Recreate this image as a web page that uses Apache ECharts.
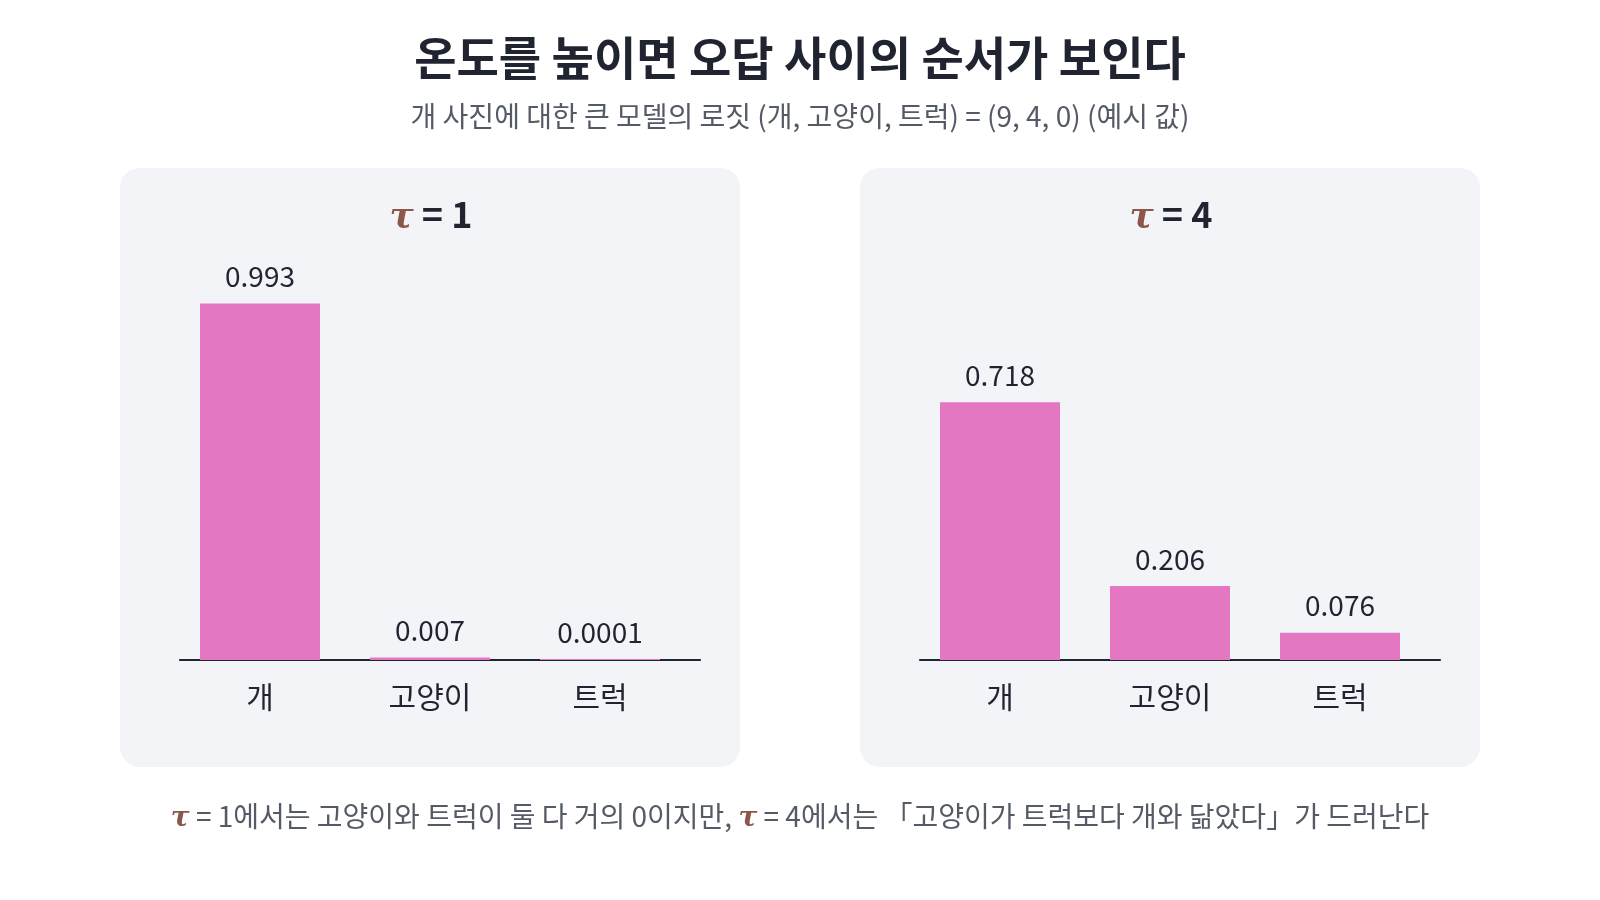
<!DOCTYPE html>
<html>
<head>
<meta charset="utf-8">
<script src="https://cdn.jsdelivr.net/npm/echarts@6/dist/echarts.min.js"></script>
<style>
  html, body { margin: 0; padding: 0; background: #fff; }
  #chart { width: 1600px; height: 900px; }
</style>
</head>
<body>
<div id="chart"></div>
<script>
var categories = ['개', '고양이', '트럭'];
var probsTau1 = [0.993, 0.007, 0.0001];
var probsTau4 = [0.718, 0.206, 0.076];
var labelsTau1 = ['0.993', '0.007', '0.0001'];
var labelsTau4 = ['0.718', '0.206', '0.076'];

var FONT = '"Noto Sans CJK KR", "Noto Sans", sans-serif';
var DARK = '#1f2430';
var GRAY = '#555b66';
var TAU = '#8c564b';
var PINK = '#e377c2';

var tauStyle = { fontFamily: '"DejaVu Serif", serif', fontStyle: 'italic', fontWeight: 'bold', color: TAU };

function panelTitle(left, n) {
  return {
    text: '{t|τ} {n|= ' + n + '}',
    left: left, top: 187, textAlign: 'center',
    textStyle: {
      fontSize: 36, fontWeight: 'bold', color: DARK, fontFamily: FONT,
      rich: {
        t: Object.assign({ fontSize: 36, padding: [8, 0, 0, 0] }, tauStyle),
        n: { fontFamily: FONT, fontSize: 36, fontWeight: 'bold', color: DARK }
      }
    }
  };
}

// bar axes: labels only, the baseline is drawn by a slightly wider axis below
function xAxisFor(idx) {
  return {
    type: 'category', gridIndex: idx, data: categories,
    axisLine: { show: false },
    axisTick: { show: false },
    axisLabel: { fontSize: 30, color: DARK, fontFamily: FONT, margin: 22 }
  };
}

function baseAxisFor(idx) {
  return {
    type: 'category', gridIndex: idx, data: categories,
    axisLine: { lineStyle: { color: DARK, width: 2.2 } },
    axisTick: { show: false },
    axisLabel: { show: false }
  };
}

function yAxisFor(idx) {
  return {
    type: 'value', gridIndex: idx, min: 0, max: 1,
    show: false, splitLine: { show: false }
  };
}

function seriesFor(idx, values, labels) {
  return {
    type: 'bar', xAxisIndex: idx, yAxisIndex: idx, z: 3,
    data: values, barWidth: 120, barMinHeight: 1,
    itemStyle: { color: PINK },
    label: {
      show: true, position: 'top', distance: 13,
      fontSize: 28, color: DARK, fontFamily: FONT,
      formatter: function (p) { return labels[p.dataIndex]; }
    }
  };
}

var chart = echarts.init(document.getElementById('chart'));
chart.setOption({
  backgroundColor: '#ffffff',
  animation: false,
  title: [
    {
      text: '온도를 높이면 오답 사이의 순서가 보인다',
      left: 795, top: 30, textAlign: 'center',
      textStyle: { fontSize: 46, fontWeight: 'bold', color: DARK, fontFamily: FONT }
    },
    {
      text: '개 사진에 대한 큰 모델의 로짓 (개, 고양이, 트럭) = (9, 4, 0) (예시 값)',
      left: 795, top: 97, textAlign: 'center',
      textStyle: { fontSize: 28, fontWeight: 'normal', color: GRAY, fontFamily: FONT }
    },
    panelTitle(426, 1),
    panelTitle(1166, 4),
    {
      text: '{t|τ}{n| = 1에서는 고양이와 트럭이 둘 다 거의 0이지만, }{t|τ}{n| = 4에서는 「고양이가 트럭보다 개와 닮았다」가 드러난다}',
      left: 795, top: 794, textAlign: 'center',
      textStyle: {
        fontSize: 28, fontWeight: 'normal', color: GRAY, fontFamily: FONT,
        rich: {
          t: Object.assign({ fontSize: 28, padding: [6, 0, 0, 0] }, tauStyle),
          n: { fontFamily: FONT, fontSize: 28, color: GRAY }
        }
      }
    }
  ],
  graphic: [
    { type: 'rect', z: -10, shape: { x: 120, y: 168, width: 620, height: 599, r: 20 }, style: { fill: '#f3f4f8' } },
    { type: 'rect', z: -10, shape: { x: 860, y: 168, width: 620, height: 599, r: 20 }, style: { fill: '#f3f4f8' } }
  ],
  grid: [
    { left: 175, top: 301, width: 510, height: 359 },
    { left: 915, top: 301, width: 510, height: 359 },
    { left: 180, top: 301, width: 520, height: 359 },
    { left: 920, top: 301, width: 520, height: 359 }
  ],
  xAxis: [xAxisFor(0), xAxisFor(1), baseAxisFor(2), baseAxisFor(3)],
  yAxis: [yAxisFor(0), yAxisFor(1), yAxisFor(2), yAxisFor(3)],
  series: [
    seriesFor(0, probsTau1, labelsTau1),
    seriesFor(1, probsTau4, labelsTau4)
  ]
});
</script>
</body>
</html>
